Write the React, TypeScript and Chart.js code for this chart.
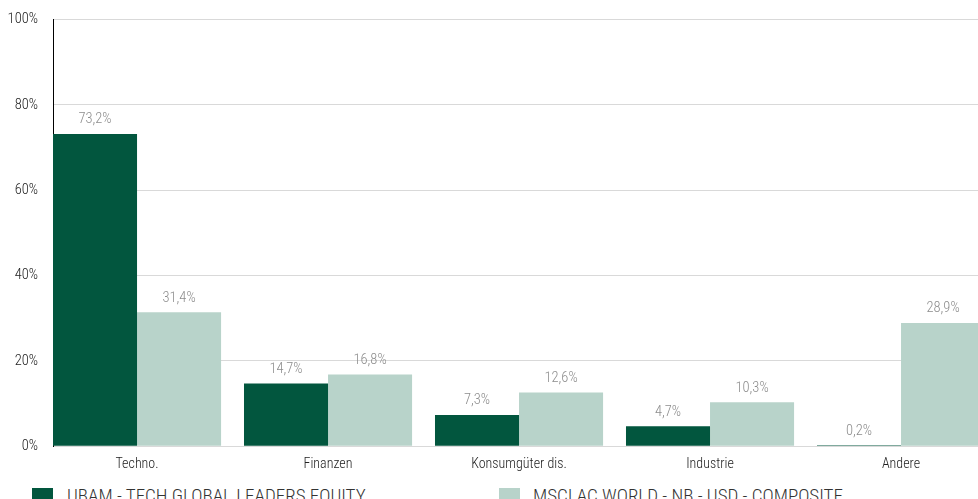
import React, { useEffect, useRef } from "react";
import { Chart, registerables } from "chart.js";

Chart.register(...registerables);

const categories = ["Techno.", "Finanzen", "Konsumgüter dis.", "Industrie", "Andere"];
const fundValues = [73.2, 14.7, 7.3, 4.7, 0.2];
const benchValues = [31.4, 16.8, 12.6, 10.3, 28.9];
const seriesNames = ["UBAM - TECH GLOBAL LEADERS EQUITY", "MSCI AC WORLD - NB - USD - COMPOSITE"];
const yTicks = [0, 20, 40, 60, 80, 100];

const DARK = "#02563e";
const LIGHT = "#b8d3ca";
const FONT = "'Liberation Sans Narrow', 'Roboto Condensed', Roboto, sans-serif";

const fmt = (v: number) => v.toFixed(1).replace(".", ",") + "%";

const labelPlugin = {
  id: "barLabels",
  afterDatasetsDraw(chart: any) {
    const ctx = chart.ctx;
    ctx.save();
    ctx.font = `300 14.5px ${FONT}`;
    ctx.fillStyle = "#8c8c8c";
    ctx.textAlign = "center";
    ctx.textBaseline = "bottom";
    chart.data.datasets.forEach((ds: any, di: number) => {
      const meta = chart.getDatasetMeta(di);
      meta.data.forEach((bar: any, i: number) => {
        ctx.fillText(fmt(ds.data[i].y), bar.x, bar.y - 7);
      });
    });
    ctx.restore();
  },
};

export default function App() {
  const ref = useRef<HTMLCanvasElement>(null);
  useEffect(() => {
    if (!ref.current) return;
    const chart = new Chart(ref.current, {
      type: "bar",
      data: {
        datasets: [
          {
            label: seriesNames[0],
            data: fundValues.map((v, i) => ({ x: i, y: v })),
            backgroundColor: DARK,
          },
          {
            label: seriesNames[1],
            data: benchValues.map((v, i) => ({ x: i, y: v })),
            backgroundColor: LIGHT,
          },
        ],
      },
      options: {
        animation: false,
        responsive: false,
        maintainAspectRatio: false,
        categoryPercentage: 0.88,
        barPercentage: 1,
        layout: { padding: { left: 0, right: 0, top: 2, bottom: 0 } },
        plugins: { legend: { display: false }, tooltip: { enabled: false } },
        scales: {
          x: {
            type: "linear",
            offset: false,
            min: -0.44,
            max: 4.403,
            grid: { display: false, offset: false },
            border: { display: false },
            ticks: {
              includeBounds: false,
              stepSize: 1,
              autoSkip: false,
              maxRotation: 0,
              padding: 2,
              color: "#222",
              font: { family: FONT, size: 14, weight: "300" },
              callback: (v: any) => (Number.isInteger(v) ? categories[v] : ""),
            },
          },
          y: {
            min: 0,
            max: 100,
            afterFit: (s: any) => {
              s.width = 53;
            },
            afterBuildTicks: (s: any) => {
              s.ticks = yTicks.map((v) => ({ value: v }));
            },
            grid: { color: "#d9d9d9", drawTicks: false, lineWidth: 1 },
            border: { display: true, color: "#000", width: 1 },
            ticks: {
              padding: 15,
              color: "#222",
              font: { family: FONT, size: 14.5, weight: "300" },
              callback: (v: any) => v + "%",
            },
          },
        },
      } as any,
      plugins: [labelPlugin],
    });
    return () => chart.destroy();
  }, []);

  const legendText: React.CSSProperties = {
    fontFamily: FONT,
    fontWeight: 300,
    fontSize: 19,
    color: "#333",
    whiteSpace: "nowrap",
    position: "absolute",
    top: 485,
    lineHeight: "22px",
  };
  const box: React.CSSProperties = { position: "absolute", top: 488, width: 21, height: 16 };

  return (
    <div style={{ position: "fixed", left: 0, top: 0, width: 978, height: 499, overflow: "hidden", background: "#fff" }}>
      <canvas ref={ref} width={978} height={479} style={{ position: "absolute", left: 0, top: -4 }} />
      <div style={{ ...box, left: 32, background: DARK }} />
      <div style={{ ...legendText, left: 67 }}>{seriesNames[0]}</div>
      <div style={{ ...box, left: 499, background: LIGHT }} />
      <div style={{ ...legendText, left: 533 }}>{seriesNames[1]}</div>
    </div>
  );
}
